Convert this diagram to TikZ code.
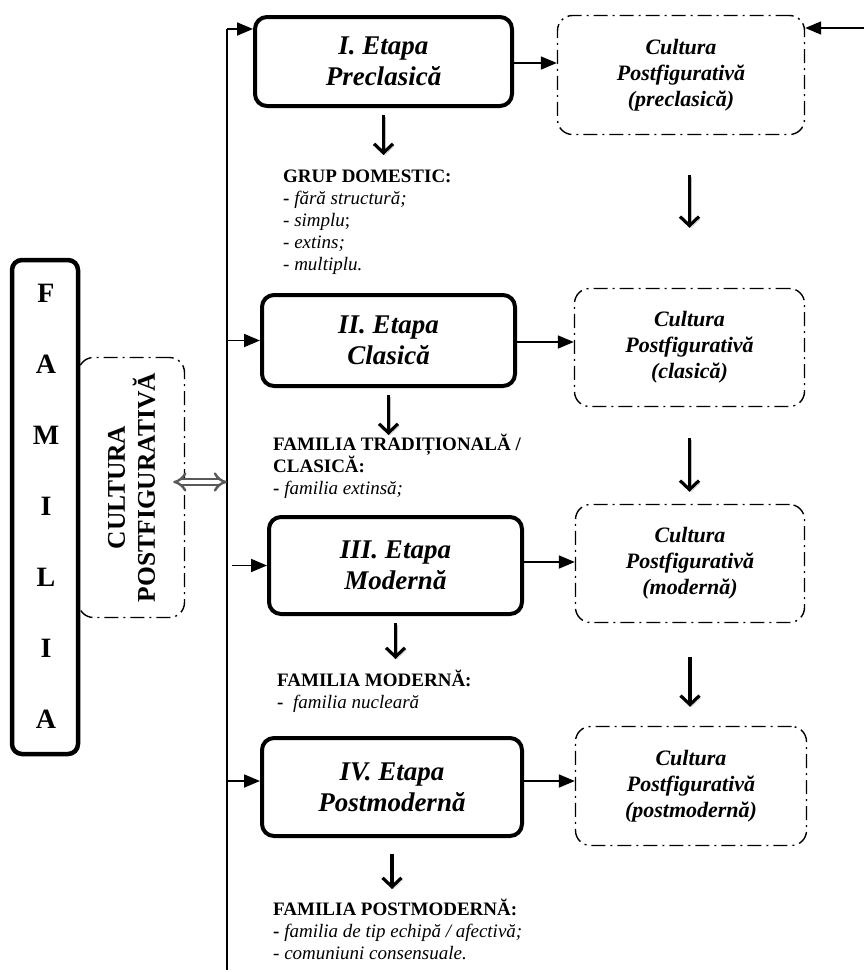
\documentclass[tikz,border=0pt]{standalone}
\usepackage{fontspec}
\setmainfont{Liberation Serif}
\usetikzlibrary{arrows.meta}

\tikzset{
	etapa/.style={draw, line width=4pt, rounded corners=12pt, align=center, inner sep=0pt, font=\fontsize{27}{31}\selectfont\bfseries\itshape},
	cultura/.style={draw, line width=1.4pt, rounded corners=15pt, dash pattern=on 14pt off 5pt on 2pt off 5pt, align=center, inner sep=0pt, font=\fontsize{22}{26}\selectfont\bfseries\itshape},
	litera/.style={inner sep=0pt, font=\fontsize{28}{30}\selectfont\bfseries},
	lista/.style={anchor=north west, align=left, inner sep=0pt, font=\fontsize{19}{22}\selectfont},
	sageata/.style={line width=1.8pt, -{Triangle[length=16pt,width=13pt]}},
	jos/.style={line width=3.2pt, -{Straight Barb[length=9pt,width=19pt]}, preaction={draw, black!25, transform canvas={shift={(1.5pt,-2pt)}}}},
}

\begin{document}
\begin{tikzpicture}[x=1pt, y=-1pt]
			%%%%% START %%%%%
			\useasboundingbox (0, 0) rectangle (864, 972);
			
			% familia
			\node[draw, line width=4.5pt, rounded corners=10pt, minimum width=66pt, minimum height=494pt] (fam) at (45, 507) {};
			\foreach \l [count=\i] in {F,A,M,I,L,I,A}
				\node[litera] (l\i) at (46, 222+71*\i) {\l};
			
			\node[cultura, minimum width=106pt, minimum height=260pt] (cv) at (131.5, 487.5) {};
			\node[rotate=90, align=center, font=\fontsize{25.5}{30}\selectfont\bfseries] (cvtext) at (cv.center) {CULTURA\\POSTFIGURATIVĂ};
			
			% linia
			\coordinate (linsus) at (227, 29);
			\coordinate (linjos) at (227, 970);
			\draw[line width=1.2pt] (linsus) -- (linjos);
			
			% etape
			\node[etapa, minimum width=257pt, minimum height=89pt] (e1) at (383.5, 61.5) {I. Etapa\\Preclasică};
			\node[etapa, minimum width=253pt, minimum height=91pt] (e2) at (388.5, 340.5) {II. Etapa\\Clasică};
			\node[etapa, minimum width=253pt, minimum height=97pt] (e3) at (395.5, 565.5) {III. Etapa\\Modernă};
			\node[etapa, minimum width=260pt, minimum height=98pt] (e4) at (392, 787) {IV. Etapa\\Postmodernă};
			
			% culturi
			\node[cultura, minimum width=247pt, minimum height=119pt] (c1) at (681, 75) {Cultura\\Postfigurativă\\(preclasică)};
			\node[cultura, minimum width=230pt, minimum height=118pt] (c2) at (689.5, 347.5) {Cultura\\Postfigurativă\\(clasică)};
			\node[cultura, minimum width=229pt, minimum height=118pt] (c3) at (690, 563.5) {Cultura\\Postfigurativă\\(modernă)};
			\node[cultura, minimum width=231pt, minimum height=119pt] (c4) at (691, 786) {Cultura\\Postfigurativă\\(postmodernă)};
			
			% liste
			\begin{scope}
				\clip (270, 160) rectangle (520, 274);
				\node[lista] (grup) at (283, 170) {\textbf{GRUP DOMESTIC:}\\\textbf{-} \textit{fără structură;}\\- \textit{simplu};\\- \textit{extins;}\\- \textit{multiplu.}};
			\end{scope}
			\node[lista] (trad) at (273, 434) {\textbf{FAMILIA TRADIȚIONALĂ /}\\\textbf{CLASICĂ:}\\\textbf{-} \textit{familia extinsă;}};
			\node[lista] (mod) at (277, 670) {\textbf{FAMILIA MODERNĂ:}\\\textbf{-}\ \ \textit{familia nucleară}};
			\node[lista] (pmod) at (273, 899) {\textbf{FAMILIA POSTMODERNĂ:}\\\textbf{-} \textit{familia de tip echipă / afectivă;}\\- \textit{comuniuni consensuale.}};
			
			% sageti
			\draw[sageata] (linsus) -- (linsus -| e1.west);
			\draw[sageata] (e2.west -| linsus) -- (e2.west);
			\draw[sageata] ([xshift=5pt]e3.west -| linsus) -- (e3.west);
			\draw[sageata] ([yshift=6pt]e4.west -| linsus) -- ([yshift=6pt]e4.west);
			
			\draw[sageata] (e1.east |- 0, 63) -- (c1.west |- 0, 63);
			\draw[sageata] (e2.east |- 0, 342) -- (c2.west |- 0, 342);
			\draw[sageata] (e3.east |- 0, 562) -- (c3.west |- 0, 562);
			\draw[sageata] (e4.east |- 0, 781) -- (c4.west |- 0, 781);
			
			\coordinate (dreapta) at (864, 28);
			\draw[sageata] (dreapta) -- (dreapta -| c1.east);
			
			\draw[jos] ([yshift=-7pt]e1.south) -- ++(0, 40);
			\draw[jos] ([yshift=-7pt]e2.south) -- ++(0, 40);
			\draw[jos] ([yshift=-7pt]e3.south) -- ++(0, 36);
			\draw[jos] ([yshift=-16pt]e4.south) -- ++(0, 35);
			
			\draw[jos] ([yshift=-40pt]c1.south -| c2.north) -- ([yshift=60pt]c2.north);
			\draw[jos] ([yshift=-31pt]c2.south) -- ([yshift=12pt]c3.north -| c2.south);
			\draw[jos] ([yshift=-34pt]c3.south) -- ([yshift=19pt]c4.north -| c3.south);
			
			\draw[black!65, line width=2.4pt, double, double distance=4pt, {Implies}-{Implies}] ([xshift=-12pt]cv.east |- 0, 482) -- (linsus |- 0, 482);
			
			%%%%% END %%%%%
\end{tikzpicture}
\end{document}
